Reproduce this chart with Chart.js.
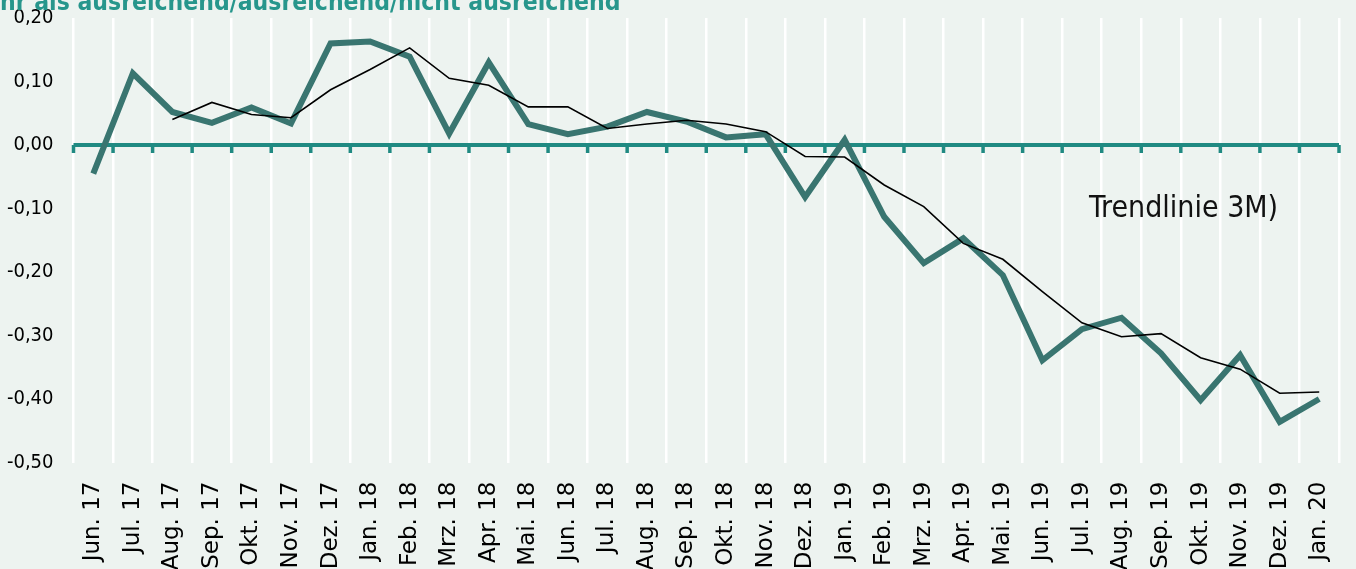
<!DOCTYPE html>
<html>
<head>
<meta charset="utf-8">
<script src="https://cdn.jsdelivr.net/npm/chart.js@4/dist/chart.umd.min.js"></script>
<style>
  html, body { margin: 0; padding: 0; background: #edf3f0; overflow: hidden; }
  canvas { display: block; }
</style>
</head>
<body>
<canvas id="c" width="1356" height="569"></canvas>
<script>
const categories = ['Jun. 17', 'Jul. 17', 'Aug. 17', 'Sep. 17', 'Okt. 17', 'Nov. 17', 'Dez. 17',
  'Jan. 18', 'Feb. 18', 'Mrz. 18', 'Apr. 18', 'Mai. 18', 'Jun. 18', 'Jul. 18', 'Aug. 18', 'Sep. 18',
  'Okt. 18', 'Nov. 18', 'Dez. 18', 'Jan. 19', 'Feb. 19', 'Mrz. 19', 'Apr. 19', 'Mai. 19', 'Jun. 19',
  'Jul. 19', 'Aug. 19', 'Sep. 19', 'Okt. 19', 'Nov. 19', 'Dez. 19', 'Jan. 20'];

const saldo = [-0.045, 0.113, 0.052, 0.035, 0.059, 0.034, 0.160, 0.163, 0.139, 0.018, 0.130, 0.033,
  0.017, 0.029, 0.052, 0.037, 0.012, 0.017, -0.082, 0.008, -0.113, -0.186, -0.147, -0.205,
  -0.339, -0.290, -0.272, -0.328, -0.402, -0.331, -0.436, -0.400];

const trend3M = [null, null, 0.040, 0.067, 0.048, 0.043, 0.087, 0.119, 0.153, 0.105, 0.094, 0.060,
  0.060, 0.026, 0.033, 0.039, 0.033, 0.021, -0.018, -0.019, -0.063, -0.097, -0.155, -0.180,
  -0.231, -0.280, -0.302, -0.297, -0.335, -0.353, -0.391, -0.389];

const yMin = -0.5, yMax = 0.2, yStep = 0.1;
const titleText = 'mehr als ausreichend/ausreichend/nicht ausreichend';
const noteText = 'Trendlinie 3M)';

const FONT = '"DejaVu Sans Condensed", "DejaVu Sans", sans-serif';
const FONT_X = '"DejaVu Sans", sans-serif';
const BG = '#edf3f0';
const TEAL_AXIS = '#208a82';

const bgPlugin = {
  id: 'bg',
  beforeDraw(chart) {
    const ctx = chart.ctx;
    ctx.save();
    ctx.fillStyle = BG;
    ctx.fillRect(0, 0, chart.width, chart.height);
    ctx.restore();
  }
};

const zeroAxisPlugin = {
  id: 'zeroAxis',
  beforeDatasetsDraw(chart) {
    const { ctx, chartArea, scales } = chart;
    const x = scales.x, y = scales.y;
    const y0 = y.getPixelForValue(0);
    ctx.save();
    ctx.strokeStyle = TEAL_AXIS;
    ctx.lineWidth = 4;
    ctx.beginPath();
    ctx.moveTo(chartArea.left, y0);
    ctx.lineTo(chartArea.right, y0);
    ctx.stroke();
    ctx.lineWidth = 3.5;
    const n = categories.length;
    const half = (x.getPixelForTick(1) - x.getPixelForTick(0)) / 2;
    for (let i = 0; i <= n; i++) {
      const px = i < n ? x.getPixelForTick(i) - half : chartArea.right;
      ctx.beginPath();
      ctx.moveTo(px, y0);
      ctx.lineTo(px, y0 + 8);
      ctx.stroke();
    }
    ctx.restore();
  }
};

const textPlugin = {
  id: 'texts',
  afterDraw(chart) {
    const ctx = chart.ctx;
    ctx.save();
    ctx.font = 'bold 24.5px ' + FONT;
    ctx.fillStyle = '#27968c';
    ctx.textBaseline = 'alphabetic';
    const off = ctx.measureText('me').width;
    ctx.fillText(titleText, -off, 10);
    ctx.font = '30px ' + FONT;
    ctx.fillStyle = '#111111';
    ctx.fillText(noteText, 1089, 217);
    ctx.restore();
  }
};

function zeroPad(s) {
  s.paddingTop = 0; s.paddingBottom = 0; s.paddingLeft = 0; s.paddingRight = 0;
}

new Chart(document.getElementById('c'), {
  type: 'line',
  data: {
    labels: categories,
    datasets: [
      {
        label: 'Trendlinie 3M',
        data: trend3M,
        borderColor: '#000000',
        borderWidth: 1.6,
        pointRadius: 0,
        tension: 0,
        order: 0,
        spanGaps: false
      },
      {
        label: 'Saldo',
        data: saldo,
        borderColor: '#397570',
        borderWidth: 6,
        pointRadius: 0,
        tension: 0,
        order: 1
      }
    ]
  },
  options: {
    responsive: false,
    animation: false,
    devicePixelRatio: 1,
    layout: { padding: { top: 18, right: 17, bottom: 0, left: 0 } },
    plugins: {
      legend: { display: false },
      tooltip: { enabled: false },
      title: { display: false }
    },
    scales: {
      x: {
        type: 'category',
        offset: true,
        grid: { display: true, color: '#ffffff', lineWidth: 2.5, offset: true, drawTicks: false },
        border: { display: false },
        ticks: {
          autoSkip: false,
          minRotation: 90,
          maxRotation: 90,
          padding: 19,
          color: '#000000',
          font: { family: FONT_X, size: 23 }
        },
        afterFit(s) { s.height = 106.5; zeroPad(s); }
      },
      y: {
        min: yMin,
        max: yMax,
        grid: { display: false, drawTicks: false },
        border: { display: false },
        ticks: {
          stepSize: yStep,
          padding: 20,
          color: '#000000',
          font: { family: FONT, size: 20 },
          callback: (v) => {
            const r = Math.round(v * 100) / 100;
            return (Object.is(r, -0) ? 0 : r).toFixed(2).replace('.', ',');
          }
        },
        afterFit(s) { s.width = 73.5; zeroPad(s); }
      }
    }
  },
  plugins: [bgPlugin, zeroAxisPlugin, textPlugin]
});
</script>
</body>
</html>
